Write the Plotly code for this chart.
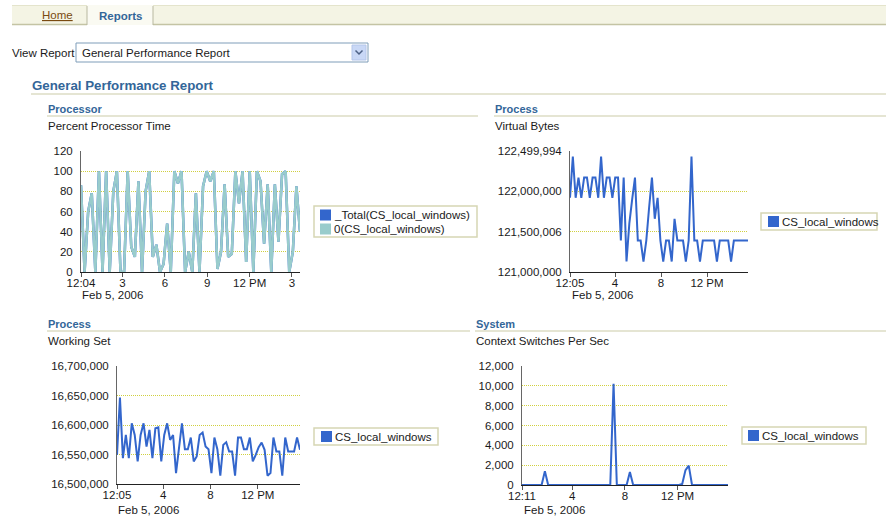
import plotly.graph_objects as go
import pandas as pd

# ---------------- data ----------------
cpu_total = [86, 0, 60, 78, 0, 100, 0, 100, 0, 80, 100, 0, 0, 100, 25, 15, 90, 0, 80, 100,
             15, 27, 0, 8, 48, 0, 100, 88, 100, 0, 20, 0, 78, 0, 85, 100, 90, 100, 3, 20,
             87, 15, 18, 100, 68, 100, 10, 100, 0, 100, 90, 28, 87, 0, 87, 30, 97, 100, 0, 20,
             85, 40]
cpu_0 = [86, 0, 60, 78, 0, 100, 0, 100, 0, 80, 100, 0, 0, 100, 25, 15, 90, 0, 80, 100,
         15, 27, 0, 8, 48, 0, 100, 88, 100, 0, 20, 0, 78, 0, 85, 100, 90, 100, 3, 20,
         87, 15, 18, 100, 68, 100, 10, 100, 0, 100, 90, 28, 87, 0, 87, 30, 97, 100, 0, 20,
         85, 40]
virtual_bytes = [121920000, 122430000, 121920000, 122170000, 121920000, 122170000, 122170000, 121920000,
                 122170000, 122170000, 121920000, 122430000, 121920000, 122170000, 122170000, 121920000,
                 122170000, 122170000, 121390000, 122170000, 121130000, 121600000, 121900000, 122170000,
                 121390000, 121390000, 121130000, 121390000, 121800000, 122170000, 121660000, 121920000,
                 121390000, 121130000, 121390000, 121390000, 121130000, 121660000, 121390000, 121390000,
                 121390000, 121130000, 121390000, 122430000, 121390000, 121390000, 121130000, 121390000,
                 121390000, 121390000, 121390000, 121390000, 121130000, 121390000, 121390000, 121390000,
                 121390000, 121130000, 121390000, 121390000, 121390000, 121390000, 121390000, 121390000]
working_set = [16549400, 16646600, 16543800, 16583100, 16543800, 16602800, 16583100, 16538200,
               16583100, 16602800, 16563500, 16591600, 16543800, 16594400, 16596100, 16538200,
               16583100, 16602800, 16574700, 16583100, 16518500, 16563500, 16602800, 16559000,
               16559000, 16578700, 16538200, 16546600, 16583100, 16587100, 16563500, 16559000,
               16518500, 16578700, 16559000, 16514000, 16566300, 16570800, 16555100, 16555100,
               16514000, 16578700, 16578700, 16559000, 16559000, 16578700, 16538200, 16549400,
               16562400, 16570200, 16557900, 16514000, 16518500, 16578700, 16555100, 16555100,
               16514000, 16578700, 16555100, 16555100, 16555100, 16578700, 16557900]
context_switches = [0, 0, 0, 0, 0, 0, 0, 1400, 0, 0, 0, 0, 0, 0, 0, 0,
                    0, 0, 0, 0, 0, 0, 0, 0, 0, 0, 0, 0, 10200, 0, 0, 0,
                    0, 1300, 0, 0, 0, 0, 0, 0, 0, 0, 0, 0, 0, 0, 0, 0,
                    0, 100, 1500, 1950, 0, 0, 0, 0, 0, 0, 0, 0, 0, 0, 0, 0]

DAY = "2006-02-05 "
t_cpu = pd.date_range(DAY + "00:04", DAY + "15:34", periods=len(cpu_0))
t_vb = pd.date_range(DAY + "00:05", DAY + "15:34", periods=len(virtual_bytes))
t_ws = pd.date_range(DAY + "00:05", DAY + "15:34", periods=len(working_set))
t_cs = pd.date_range(DAY + "00:11", DAY + "15:50", periods=len(context_switches))

cpu_ticks = [DAY + "00:04", DAY + "03:00", DAY + "06:00", DAY + "09:00", DAY + "12:00", DAY + "15:00"]
cpu_ticktext = ["12:04", "3", "6", "9", "12 PM", "3"]
vb_ticks = [DAY + "00:05", DAY + "04:00", DAY + "08:00", DAY + "12:00"]
vb_ticktext = ["12:05", "4", "8", "12 PM"]
ws_ticks = [DAY + "00:05", DAY + "04:00", DAY + "08:00", DAY + "12:00"]
ws_ticktext = ["12:05", "4", "8", "12 PM"]
cs_ticks = [DAY + "00:11", DAY + "04:00", DAY + "08:00", DAY + "12:00"]
cs_ticktext = ["12:11", "4", "8", "12 PM"]

cpu_yticks = [0, 20, 40, 60, 80, 100, 120]
vb_yticks = [121000000, 121500006, 122000000, 122499994]
vb_yticktext = ["121,000,000", "121,500,006", "122,000,000", "122,499,994"]
ws_yticks = [16500000, 16550000, 16600000, 16650000, 16700000]
cs_yticks = [0, 2000, 4000, 6000, 8000, 10000, 12000]

# ---------------- style ----------------
W, H = 886, 517
def px(x):
    return x / W
def py(y):
    return 1 - y / H

FONT = "Liberation Sans, Arial, sans-serif"
BLUE = "#3366cc"
TEAL = "#99cccc"
HEAD = "#336699"
GRID = "#d0d040"
RULE = "#dcdcc4"
TXT = "#1a1a1a"

fig = go.Figure()
fig.add_trace(go.Scatter(x=t_cpu, y=cpu_total, mode="lines", name="_Total(CS_local_windows)",
                         line=dict(color=BLUE, width=2.5), xaxis="x", yaxis="y", showlegend=False))
fig.add_trace(go.Scatter(x=t_cpu, y=cpu_0, mode="lines", name="0(CS_local_windows)",
                         line=dict(color=TEAL, width=2.5), xaxis="x", yaxis="y", showlegend=False))
fig.add_trace(go.Scatter(x=t_vb, y=virtual_bytes, mode="lines", name="CS_local_windows",
                         line=dict(color=BLUE, width=2), xaxis="x2", yaxis="y2", showlegend=False))
fig.add_trace(go.Scatter(x=t_ws, y=working_set, mode="lines", name="CS_local_windows",
                         line=dict(color=BLUE, width=2), xaxis="x3", yaxis="y3", showlegend=False))
fig.add_trace(go.Scatter(x=t_cs, y=context_switches, mode="lines", name="CS_local_windows",
                         line=dict(color=BLUE, width=2), xaxis="x4", yaxis="y4", showlegend=False))

tickfont = dict(family=FONT, size=11.5, color=TXT)

def xax(dom, anchor, rng, tv, tt):
    return dict(domain=dom, anchor=anchor, type="date", range=rng, tickvals=tv, ticktext=tt,
                showgrid=False, zeroline=False, showline=True, linecolor="#222", linewidth=1,
                ticks="outside", ticklen=4, tickcolor="#555", tickfont=tickfont,
                ticklabelstandoff=-4,
                layer="below traces", fixedrange=True, automargin=False)

def yax(dom, anchor, rng, tv, tt=None, fmt=None):
    d = dict(domain=dom, anchor=anchor, range=rng, tickvals=tv, showgrid=True, gridcolor=GRID,
             griddash="1px,1px", gridwidth=1, zeroline=False, showline=True, linecolor="#666",
             linewidth=1, ticks="", tickfont=tickfont, ticklabelstandoff=5,
             layer="below traces", fixedrange=True, automargin=False)
    if tt is not None:
        d["ticktext"] = tt
    if fmt is not None:
        d["tickformat"] = fmt
    return d

fig.update_layout(
    xaxis=xax([px(81), px(300)], "y", [t_cpu[0], t_cpu[-1]], cpu_ticks, cpu_ticktext),
    yaxis=yax([py(272), py(151)], "x", [0, 120], cpu_yticks),
    xaxis2=xax([px(570), px(748)], "y2", [t_vb[0], t_vb[-1]], vb_ticks, vb_ticktext),
    yaxis2=yax([py(272), py(151)], "x2", [121000000, 122499994], vb_yticks, vb_yticktext),
    xaxis3=xax([px(117), px(300)], "y3", [t_ws[0], t_ws[-1]], ws_ticks, ws_ticktext),
    yaxis3=yax([py(484), py(366)], "x3", [16500000, 16700000], ws_yticks, fmt=","),
    xaxis4=xax([px(522), px(728)], "y4", [t_cs[0], t_cs[-1]], cs_ticks, cs_ticktext),
    yaxis4=yax([py(485), py(366)], "x4", [0, 12000], cs_yticks, fmt=","),
)

shapes = []
ann = []

def rect(x0, y0, x1, y1, fill=None, line=None, lw=1):
    shapes.append(dict(type="rect", xref="paper", yref="paper", x0=px(x0), x1=px(x1),
                       y0=py(y1), y1=py(y0), fillcolor=fill or "rgba(0,0,0,0)",
                       line=dict(color=line or "rgba(0,0,0,0)", width=lw if line else 0),
                       layer="above"))

def hline(x0, x1, y, color, w=1):
    shapes.append(dict(type="line", xref="paper", yref="paper", x0=px(x0), x1=px(x1),
                       y0=py(y), y1=py(y), line=dict(color=color, width=w)))

def vline(x, y0, y1, color, w=1):
    shapes.append(dict(type="line", xref="paper", yref="paper", x0=px(x), x1=px(x),
                       y0=py(y0), y1=py(y1), line=dict(color=color, width=w)))

def text(x, y, s, size=11.5, color=TXT, anchor="left"):
    ann.append(dict(xref="paper", yref="paper", x=px(x), y=py(y), text=s, showarrow=False,
                    xanchor=anchor, yanchor="middle", font=dict(family=FONT, size=size, color=color)))

# tab bar
rect(12, 5, 886, 25, fill="#f4f4e4")
hline(12, 886, 5.5, "#e4e4cc", 1)
hline(12, 87, 24.5, "#c4c4a4", 1.5)
hline(153, 886, 24.5, "#c4c4a4", 1.5)
rect(87, 5, 153, 25, fill="#fafaf2")
vline(87, 6, 25, "#b8b8a0", 1)
vline(153, 6, 25, "#b8b8a0", 1)
text(57, 15, "<u>Home</u>", 11.5, "#7a4a10", "center")
text(120, 16, "<b>Reports</b>", 11.5, HEAD, "center")

# View report selector
text(10, 53, "View Report", 11.5)
rect(76, 43, 368, 62, fill="#ffffff", line="#7f9db9", lw=1)
text(80, 53, "General Performance Report", 11.5)
rect(352, 45, 366, 60, fill="#c9d8f6", line="#b4c6ea", lw=1)
shapes.append(dict(type="path", xref="paper", yref="paper",
                   path=f"M {px(355.5)} {py(50.5)} L {px(359)} {py(54)} L {px(362.5)} {py(50.5)}",
                   line=dict(color="#4d6185", width=1.5)))

# report title
text(29.5, 85, "<b>General Performance Report</b>", 13.3, HEAD)
hline(31, 886, 94, RULE, 1.5)

# section headers
def section(x, x1, y, head, sub):
    text(x - 1, y, f"<b>{head}</b>", 11, HEAD)
    hline(x, x1, y + 7, RULE, 1.5)
    text(x - 1, y + 17, sub, 11.5)

section(47, 478, 109, "Processor", "Percent Processor Time")
section(494, 886, 109, "Process", "Virtual Bytes")
section(47, 470, 324, "Process", "Working Set")
section(475, 886, 324, "System", "Context Switches Per Sec")

# date captions under axes
text(80, 295, "Feb 5, 2006", 11.5)
text(570, 295, "Feb 5, 2006", 11.5)
text(116, 510, "Feb 5, 2006", 11.5)
text(522, 510, "Feb 5, 2006", 11.5)

# legends
def legend(x0, y0, x1, y1, items):
    rect(x0, y0, x1, y1, fill="#ffffff", line="#d6d6b4", lw=1.5)
    for (sx, sy, color, label) in items:
        rect(sx, sy - 5.5, sx + 11, sy + 5.5, fill=color)
        text(sx + 12, sy, label, 11.5)

legend(314, 206, 477, 237, [(320, 215, BLUE, "_Total(CS_local_windows)"),
                            (320, 229, TEAL, "0(CS_local_windows)")])
legend(761, 213, 877, 230, [(768, 221.5, BLUE, "CS_local_windows")])
legend(314, 428, 438, 445, [(321, 436.5, BLUE, "CS_local_windows")])
legend(742, 427, 866, 444, [(748, 435.5, BLUE, "CS_local_windows")])

fig.update_layout(
    width=W, height=H, margin=dict(l=0, r=0, t=0, b=0, pad=0, autoexpand=False),
    paper_bgcolor="#ffffff", plot_bgcolor="#ffffff",
    font=dict(family=FONT, size=11.5, color=TXT),
    shapes=shapes, annotations=ann, showlegend=False, hovermode=False,
)

fig.write_html("out.html", config={"displayModeBar": False},
               post_script="document.body.style.margin='0';document.body.style.overflow='hidden';")
